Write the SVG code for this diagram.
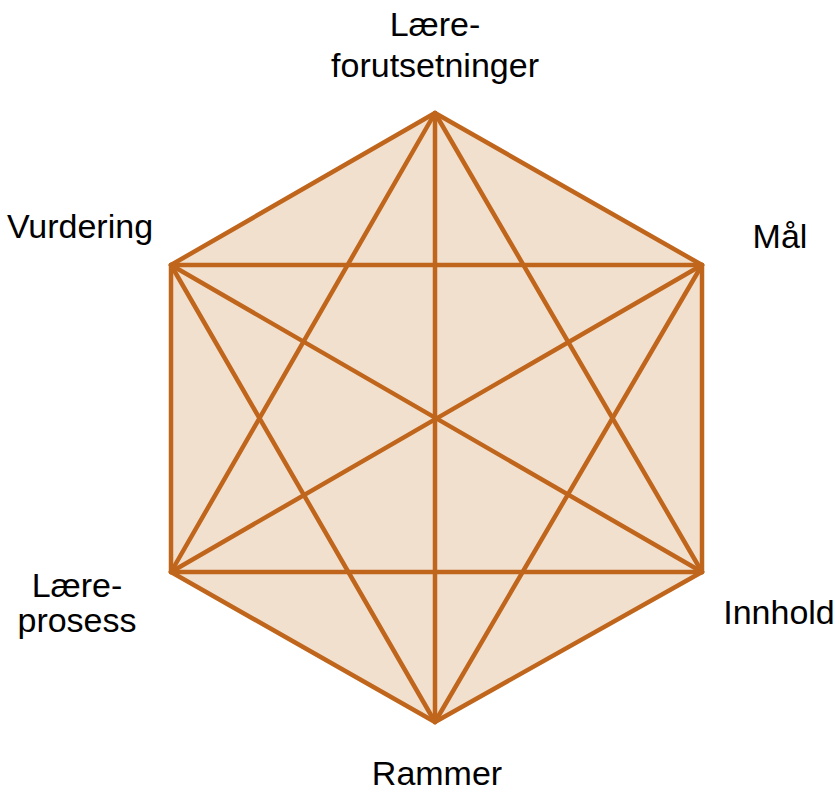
<svg xmlns="http://www.w3.org/2000/svg" width="839" height="791" viewBox="0 0 839 791">
<style>
.lbl{font-family:"Liberation Sans",Arial,sans-serif;font-size:34px;fill:#000}
.edge{stroke:#C0661C;stroke-width:4.5;stroke-linecap:round;stroke-linejoin:round;fill:none}
.hex{fill:#F2E0CF;stroke:#C0661C;stroke-width:4.5;stroke-linejoin:round}
</style>
<rect width="839" height="791" fill="#fff"/>
<polygon class="hex" points="435,113 702,265 702,572 435,722 171,572 171,265"/>
<g id="connectors" class="edge">
<line x1="435" y1="113" x2="435" y2="722"/>
<line x1="171" y1="265" x2="702" y2="572"/>
<line x1="702" y1="265" x2="171" y2="572"/>
<line x1="171" y1="265" x2="702" y2="265"/>
<line x1="171" y1="572" x2="702" y2="572"/>
<line x1="435" y1="113" x2="171" y2="572"/>
<line x1="435" y1="113" x2="702" y2="572"/>
<line x1="435" y1="722" x2="171" y2="265"/>
<line x1="435" y1="722" x2="702" y2="265"/>
</g>
<g id="node-laereforutsetninger"><text class="lbl" text-anchor="middle" x="435" y="36">Lære-</text><text class="lbl" text-anchor="middle" x="435" y="77">forutsetninger</text></g>
<g id="node-maal"><text class="lbl" text-anchor="middle" x="780" y="248">Mål</text></g>
<g id="node-innhold"><text class="lbl" text-anchor="middle" x="779" y="624">Innhold</text></g>
<g id="node-rammer"><text class="lbl" text-anchor="middle" x="437" y="785">Rammer</text></g>
<g id="node-laereprosess"><text class="lbl" text-anchor="middle" x="77" y="597">Lære-</text><text class="lbl" text-anchor="middle" x="77" y="632">prosess</text></g>
<g id="node-vurdering"><text class="lbl" text-anchor="middle" x="80" y="238">Vurdering</text></g>
</svg>
